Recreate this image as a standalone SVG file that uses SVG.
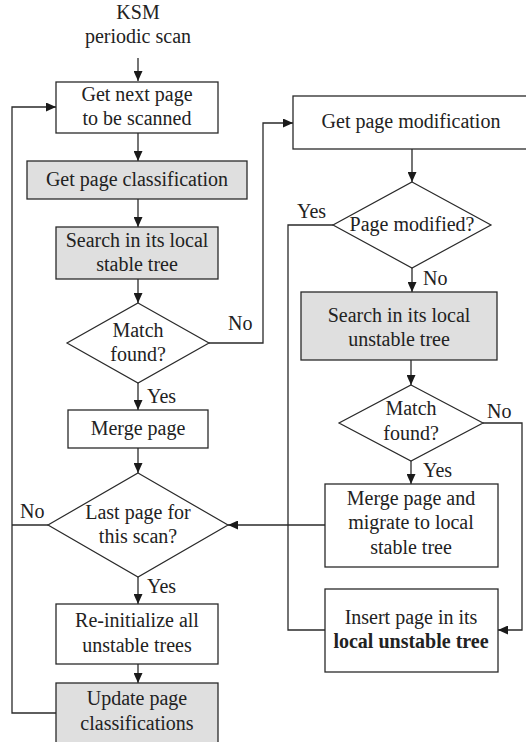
<svg xmlns="http://www.w3.org/2000/svg" width="526" height="742" viewBox="0 0 526 742">
  <defs>
    <marker id="arrow" markerUnits="userSpaceOnUse" markerWidth="11" markerHeight="9" refX="10" refY="4.5" orient="auto">
      <path d="M0,0 L10,4.5 L0,9 Z" fill="#1a1a1a"/>
    </marker>
  </defs>
  <rect width="526" height="742" fill="#ffffff"/>

  <!-- connectors -->
  <g id="connectors" fill="none" stroke="#2a2a2a" stroke-width="1.3">
    <line x1="138" y1="58" x2="138" y2="81" marker-end="url(#arrow)"/>
    <line x1="138" y1="133" x2="138" y2="161" marker-end="url(#arrow)"/>
    <line x1="138" y1="199" x2="138" y2="227" marker-end="url(#arrow)"/>
    <line x1="138" y1="279" x2="138" y2="303" marker-end="url(#arrow)"/>
    <line x1="138" y1="383" x2="138" y2="410" marker-end="url(#arrow)"/>
    <line x1="138" y1="448" x2="138" y2="473" marker-end="url(#arrow)"/>
    <line x1="138" y1="577" x2="138" y2="604" marker-end="url(#arrow)"/>
    <line x1="138" y1="664" x2="138" y2="683" marker-end="url(#arrow)"/>
    <!-- loop back to the next page -->
    <polyline points="56,713 12,713 12,107 56,107" marker-end="url(#arrow)"/>
    <line x1="48" y1="525" x2="12" y2="525"/>
    <!-- stable tree miss -->
    <polyline points="209,343 263,343 263,123 293,123" marker-end="url(#arrow)"/>
    <!-- right column -->
    <line x1="412" y1="149" x2="412" y2="182" marker-end="url(#arrow)"/>
    <polyline points="333,225 288,225 288,630 325,630"/>
    <line x1="412" y1="268" x2="412" y2="292" marker-end="url(#arrow)"/>
    <line x1="411" y1="360" x2="411" y2="385" marker-end="url(#arrow)"/>
    <line x1="411" y1="461" x2="411" y2="484" marker-end="url(#arrow)"/>
    <polyline points="483,423 522,423 522,630 498,630" marker-end="url(#arrow)"/>
    <line x1="325" y1="525" x2="228" y2="525" marker-end="url(#arrow)"/>
  </g>

  <!-- edge labels -->
  <g id="labels" fill="#222222">
    <text x="228" y="330" font-family="'Liberation Serif', 'Times New Roman', Times, serif" font-size="20">No</text>
    <text x="147" y="403" font-family="'Liberation Serif', 'Times New Roman', Times, serif" font-size="20">Yes</text>
    <text x="20" y="518" font-family="'Liberation Serif', 'Times New Roman', Times, serif" font-size="20">No</text>
    <text x="147" y="593" font-family="'Liberation Serif', 'Times New Roman', Times, serif" font-size="20">Yes</text>
    <text x="297" y="218" font-family="'Liberation Serif', 'Times New Roman', Times, serif" font-size="20">Yes</text>
    <text x="423" y="285" font-family="'Liberation Serif', 'Times New Roman', Times, serif" font-size="20">No</text>
    <text x="487" y="418" font-family="'Liberation Serif', 'Times New Roman', Times, serif" font-size="20">No</text>
    <text x="423" y="477" font-family="'Liberation Serif', 'Times New Roman', Times, serif" font-size="20">Yes</text>
  </g>

  <g id="start" fill="#222222" text-anchor="middle">
    <text x="138" y="19" font-family="'Liberation Serif', 'Times New Roman', Times, serif" font-size="20">KSM</text>
    <text x="138" y="43" font-family="'Liberation Serif', 'Times New Roman', Times, serif" font-size="20">periodic scan</text>
  </g>

  <g id="next-page" fill="#222222" text-anchor="middle">
    <rect x="56" y="82" width="162" height="51" fill="#ffffff" stroke="#2a2a2a" stroke-width="1.3"/>
    <text x="137" y="101" font-family="'Liberation Serif', 'Times New Roman', Times, serif" font-size="20">Get next page</text>
    <text x="137" y="125" font-family="'Liberation Serif', 'Times New Roman', Times, serif" font-size="20">to be scanned</text>
  </g>

  <g id="classification" fill="#222222" text-anchor="middle">
    <rect x="27" y="161" width="220" height="38" fill="#dfdfdf" stroke="#2a2a2a" stroke-width="1.3"/>
    <text x="137" y="186" font-family="'Liberation Serif', 'Times New Roman', Times, serif" font-size="20">Get page classification</text>
  </g>

  <g id="stable-search" fill="#222222" text-anchor="middle">
    <rect x="56" y="227" width="162" height="52" fill="#dfdfdf" stroke="#2a2a2a" stroke-width="1.3"/>
    <text x="137" y="247" font-family="'Liberation Serif', 'Times New Roman', Times, serif" font-size="20">Search in its local</text>
    <text x="137" y="271" font-family="'Liberation Serif', 'Times New Roman', Times, serif" font-size="20">stable tree</text>
  </g>

  <g id="stable-match" fill="#222222" text-anchor="middle">
    <polygon points="138,303 209,343 138,383 67,343" fill="#ffffff" stroke="#2a2a2a" stroke-width="1.2"/>
    <text x="138" y="337" font-family="'Liberation Serif', 'Times New Roman', Times, serif" font-size="20">Match</text>
    <text x="138" y="361" font-family="'Liberation Serif', 'Times New Roman', Times, serif" font-size="20">found?</text>
  </g>

  <g id="merge" fill="#222222" text-anchor="middle">
    <rect x="68" y="410" width="140" height="38" fill="#ffffff" stroke="#2a2a2a" stroke-width="1.3"/>
    <text x="138" y="435" font-family="'Liberation Serif', 'Times New Roman', Times, serif" font-size="20">Merge page</text>
  </g>

  <g id="last-page" fill="#222222" text-anchor="middle">
    <polygon points="138,473 228,525 138,577 48,525" fill="#ffffff" stroke="#2a2a2a" stroke-width="1.2"/>
    <text x="138" y="519" font-family="'Liberation Serif', 'Times New Roman', Times, serif" font-size="20">Last page for</text>
    <text x="138" y="543" font-family="'Liberation Serif', 'Times New Roman', Times, serif" font-size="20">this scan?</text>
  </g>

  <g id="reinit" fill="#222222" text-anchor="middle">
    <rect x="56" y="604" width="162" height="60" fill="#ffffff" stroke="#2a2a2a" stroke-width="1.3"/>
    <text x="137" y="627" font-family="'Liberation Serif', 'Times New Roman', Times, serif" font-size="20">Re-initialize all</text>
    <text x="137" y="652" font-family="'Liberation Serif', 'Times New Roman', Times, serif" font-size="20">unstable trees</text>
  </g>

  <g id="update" fill="#222222" text-anchor="middle">
    <rect x="56" y="683" width="162" height="62" fill="#dfdfdf" stroke="#2a2a2a" stroke-width="1.3"/>
    <text x="137" y="705" font-family="'Liberation Serif', 'Times New Roman', Times, serif" font-size="20">Update page</text>
    <text x="137" y="730" font-family="'Liberation Serif', 'Times New Roman', Times, serif" font-size="20">classifications</text>
  </g>

  <g id="modification" fill="#222222" text-anchor="middle">
    <rect x="293" y="96" width="236" height="53" fill="#ffffff" stroke="#2a2a2a" stroke-width="1.3"/>
    <text x="411" y="128" font-family="'Liberation Serif', 'Times New Roman', Times, serif" font-size="20">Get page modification</text>
  </g>

  <g id="modified" fill="#222222" text-anchor="middle">
    <polygon points="412,182 491,225 412,268 333,225" fill="#ffffff" stroke="#2a2a2a" stroke-width="1.2"/>
    <text x="412" y="231" font-family="'Liberation Serif', 'Times New Roman', Times, serif" font-size="20">Page modified?</text>
  </g>

  <g id="unstable-search" fill="#222222" text-anchor="middle">
    <rect x="301" y="292" width="196" height="68" fill="#dfdfdf" stroke="#2a2a2a" stroke-width="1.3"/>
    <text x="399" y="322" font-family="'Liberation Serif', 'Times New Roman', Times, serif" font-size="20">Search in its local</text>
    <text x="399" y="346" font-family="'Liberation Serif', 'Times New Roman', Times, serif" font-size="20">unstable tree</text>
  </g>

  <g id="unstable-match" fill="#222222" text-anchor="middle">
    <polygon points="411,385 483,423 411,461 339,423" fill="#ffffff" stroke="#2a2a2a" stroke-width="1.2"/>
    <text x="411" y="415" font-family="'Liberation Serif', 'Times New Roman', Times, serif" font-size="20">Match</text>
    <text x="411" y="440" font-family="'Liberation Serif', 'Times New Roman', Times, serif" font-size="20">found?</text>
  </g>

  <g id="migrate" fill="#222222" text-anchor="middle">
    <rect x="325" y="484" width="173" height="83" fill="#ffffff" stroke="#2a2a2a" stroke-width="1.3"/>
    <text x="411" y="505" font-family="'Liberation Serif', 'Times New Roman', Times, serif" font-size="20">Merge page and</text>
    <text x="411" y="529" font-family="'Liberation Serif', 'Times New Roman', Times, serif" font-size="20">migrate to local</text>
    <text x="411" y="554" font-family="'Liberation Serif', 'Times New Roman', Times, serif" font-size="20">stable tree</text>
  </g>

  <g id="insert" fill="#222222" text-anchor="middle">
    <rect x="325" y="589" width="173" height="83" fill="#ffffff" stroke="#2a2a2a" stroke-width="1.3"/>
    <text x="411" y="624" font-family="'Liberation Serif', 'Times New Roman', Times, serif" font-size="20">Insert page in its</text>
    <text x="411" y="648" font-family="'Liberation Serif', 'Times New Roman', Times, serif" font-size="20" font-weight="bold">local unstable tree</text>
  </g>
</svg>
